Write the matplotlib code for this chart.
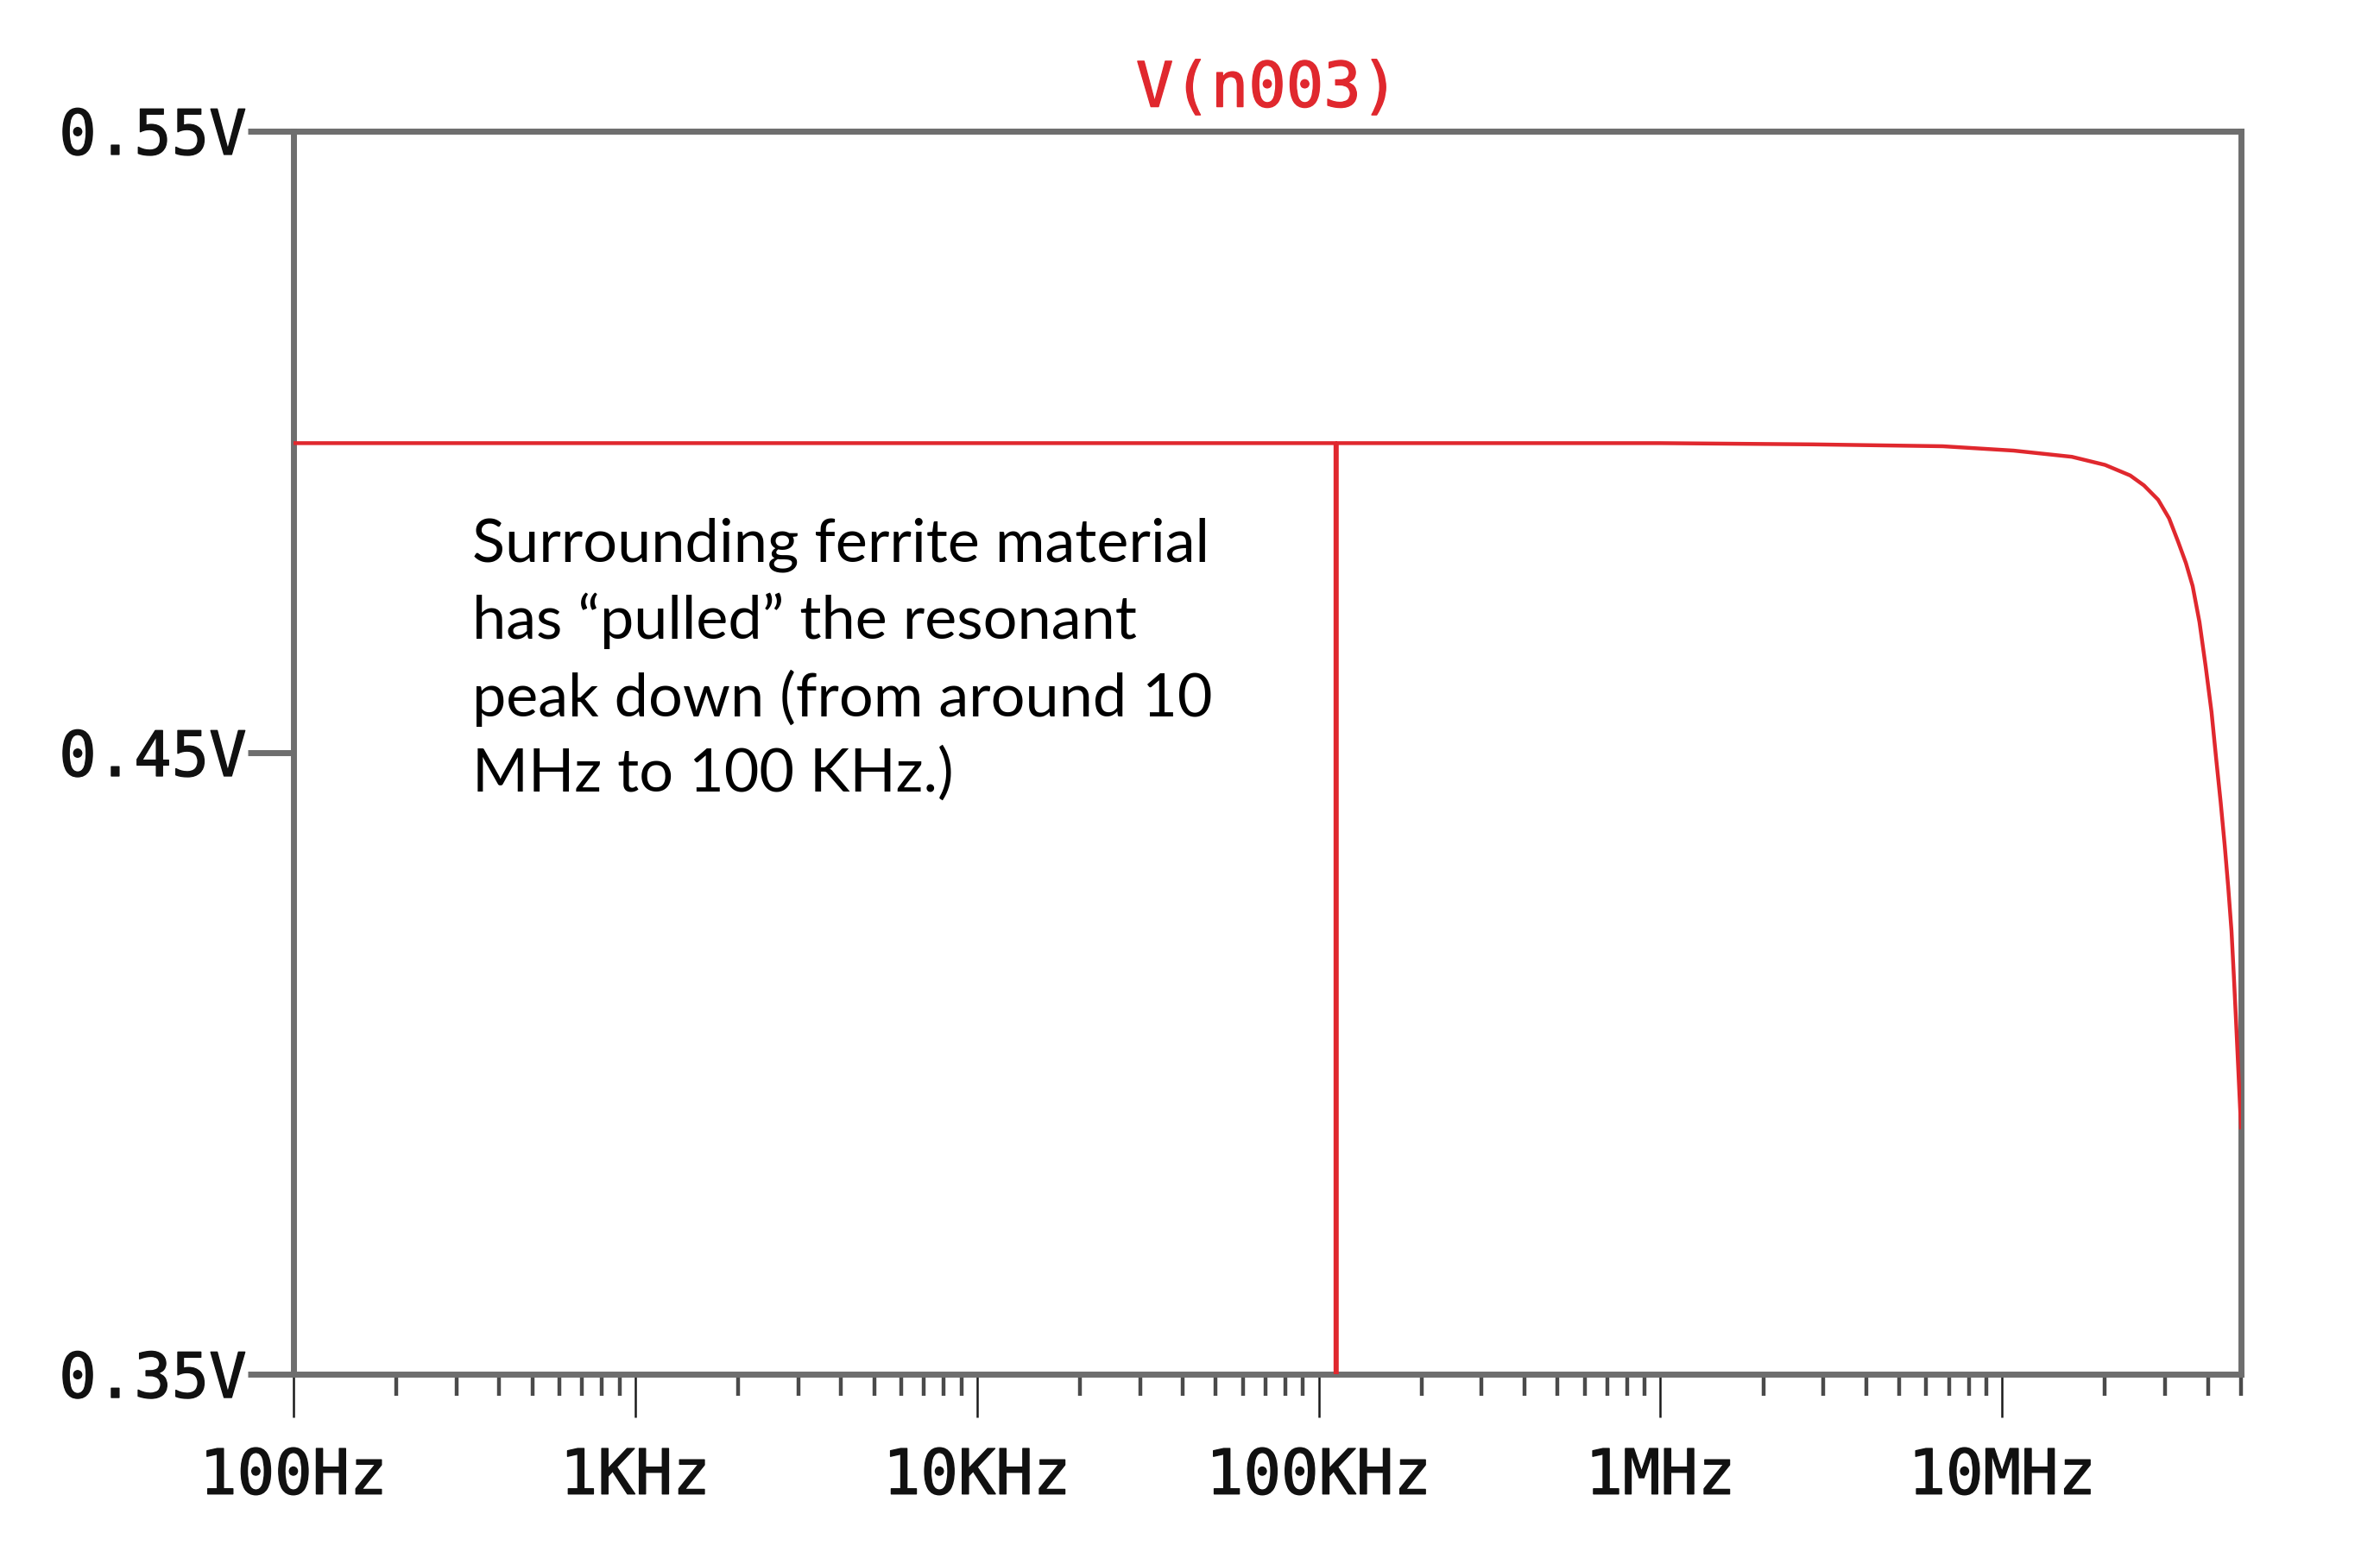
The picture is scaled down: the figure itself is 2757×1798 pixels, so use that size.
import matplotlib
matplotlib.use('Agg')
import matplotlib.pyplot as plt
import matplotlib.patheffects as pe
from matplotlib.ticker import FixedLocator, FixedFormatter, LogLocator, NullFormatter

# trace values (Hz, V)
freq_hz = [100, 1e3, 1e4, 1e5, 1.12e5, 1.12e5, 1.13e5, 1.13e5, 1e6,
           2.8e6, 6.7e6, 10.8e6, 16e6, 20e6, 23.7e6, 26e6, 28.6e6, 30.8e6,
           32.7e6, 34.5e6, 36.1e6, 37.8e6, 39.4e6, 41e6, 42.3e6, 43.6e6,
           44.8e6, 45.9e6, 46.9e6, 47.6e6, 48.3e6, 49.1e6, 50e6]
v_n003 = [0.4998, 0.4998, 0.4998, 0.4998, 0.4998, 0.300, 0.300, 0.4998, 0.4998,
          0.4996, 0.4993, 0.4986, 0.4976, 0.4963, 0.4946, 0.4930, 0.4907, 0.4877,
          0.4840, 0.4805, 0.4768, 0.4710, 0.4639, 0.4565, 0.4490, 0.4420,
          0.4351, 0.4282, 0.4213, 0.4145, 0.4074, 0.3990, 0.3897]

x_ticks = [1e2, 1e3, 1e4, 1e5, 1e6, 1e7]
x_labels = ['100Hz', '1KHz', '10KHz', '100KHz', '1MHz', '10MHz']
y_ticks = [0.35, 0.45, 0.55]
y_labels = ['0.35V', '0.45V', '0.55V']

trace_name = 'V(n003)'
note = ('Surrounding ferrite material\n'
        'has \u201cpulled\u201d the resonant\n'
        'peak down (from around 10\n'
        'MHz to 100 KHz.)')

RED = '#e0282e'
FRAME = '#6e6e6e'
INK = '#111111'
MONO = 'DejaVu Sans Mono'

fig = plt.figure(figsize=(27.57, 17.99), dpi=100)
ax = fig.add_axes([0.1233, 0.1145, 0.8183, 0.8005])

ax.plot(freq_hz, v_n003, color=RED, lw=3.2, zorder=3)

ax.set_xscale('log')
ax.set_xlim(100, 5e7)
ax.set_ylim(0.35, 0.55)

for s in ax.spines.values():
    s.set_color(FRAME)
    s.set_linewidth(5)

ax.xaxis.set_major_locator(FixedLocator(x_ticks))
ax.xaxis.set_major_formatter(FixedFormatter(x_labels))
ax.xaxis.set_minor_locator(LogLocator(base=10, subs=[2, 3, 4, 5, 6, 7, 8, 9], numticks=20))
ax.xaxis.set_minor_formatter(NullFormatter())
ax.yaxis.set_major_locator(FixedLocator(y_ticks))
ax.yaxis.set_major_formatter(FixedFormatter(y_labels))

ax.tick_params(axis='x', which='major', direction='out', length=36, width=1.8,
               color='#1a1a1a', pad=25, labelsize=52, labelcolor=INK)
ax.tick_params(axis='x', which='minor', direction='out', length=18, width=3.2,
               color='#4a4a4a')
ax.tick_params(axis='y', which='major', direction='out', length=38, width=5,
               color=FRAME, pad=1, labelsize=52, labelcolor=INK)
# slightly heavier than regular, like the blurred LTspice labels
semi = [pe.withStroke(linewidth=1.0, foreground=INK)]
for lab in ax.get_xticklabels() + ax.get_yticklabels():
    lab.set_fontfamily(MONO)
    lab.set_path_effects(semi)

fig.text(0.5325, 0.9416, trace_name, color=RED, fontsize=52, fontfamily=MONO,
         ha='center', va='center',
         path_effects=[pe.withStroke(linewidth=1.0, foreground=RED)])

fig.text(0.1984, 1 - 600 / 1799, note, fontsize=50.5, fontfamily='Lato',
         ha='left', va='top', linespacing=1.43, color='black')

fig.savefig('out.png', dpi=100, facecolor='white')
